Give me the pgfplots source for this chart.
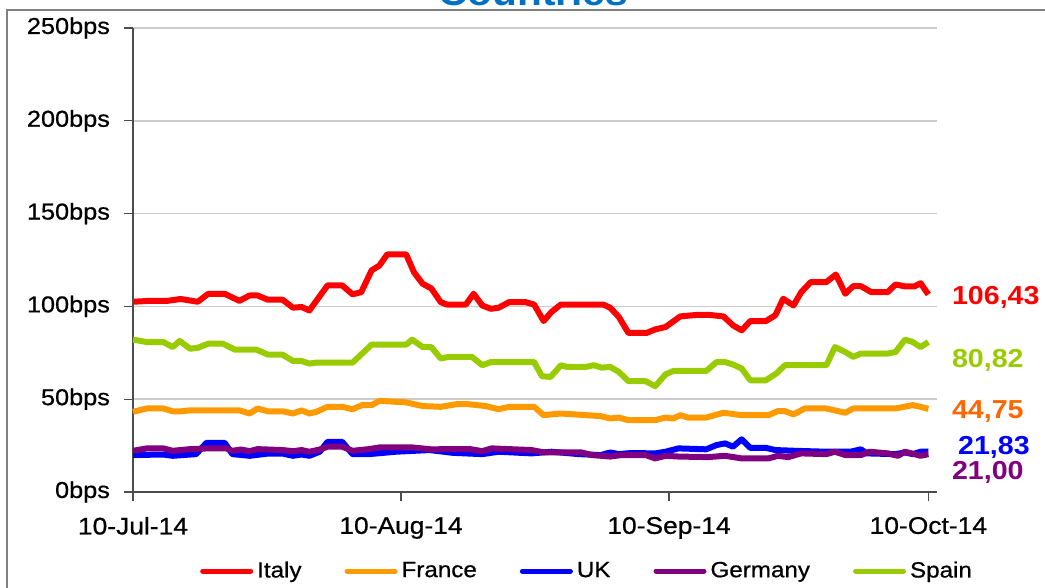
\documentclass[border=0pt]{standalone}
\usepackage{fontspec}
\setmainfont{Liberation Sans}[FakeStretch=1.1, UprightFeatures={FakeBold=0.7}]
\usepackage{pgfplots}
\pgfplotsset{compat=1.18}
\definecolor{cItaly}{HTML}{FF0000}
\definecolor{cFrance}{HTML}{FF9900}
\definecolor{cUK}{HTML}{0000FF}
\definecolor{cGermany}{HTML}{800080}
\definecolor{cSpain}{HTML}{99CC00}
\definecolor{cFranceLbl}{HTML}{FF6600}
\definecolor{titleblue}{HTML}{0070C0}
\begin{document}
\begin{tikzpicture}
\draw[gray, line width=1pt] (3.5pt,-5.25pt) rectangle (700pt,-500pt);
\node[anchor=base, font=\bfseries\fontsize{18.5}{20}\selectfont, text=titleblue] at (266.5pt,-3pt) {Countries};
\begin{axis}[
  at={(66.5pt,-246pt)}, anchor=south west,
  scale only axis, width=402pt, height=232pt,
  xmin=0, xmax=93, ymin=0, ymax=250,
  axis x line=bottom, axis y line=left,
  axis line style={-, draw=black!70, line width=0.6pt},
  tick align=outside, major tick length=4.5pt,
  tick style={draw=black!70, line width=0.6pt},
  ytick={0,50,100,150,200,250},
  yticklabels={0bps,50bps,100bps,150bps,200bps,250bps},
  xtick={0,31,62,92},
  xticklabels={10-Jul-14,10-Aug-14,10-Sep-14,10-Oct-14},
  yticklabel style={font=\fontsize{11.5}{12}\selectfont, xshift=-3.5pt},
  xticklabel style={font=\fontsize{12}{13}\selectfont, yshift=-4.5pt},
  ymajorgrids, grid style={draw=gray!40, line width=0.8pt},
  clip=false,
  every axis plot/.append style={line width=3pt, line join=round},
  legend columns=5,
  legend style={draw=none, fill=none, at={(0.566,-0.1703)}, anchor=center,
    font=\fontsize{11}{12}\selectfont,
    /tikz/every even column/.append style={column sep=19.5pt}},
  legend image code/.code={\draw[#1, line width=2.5pt, line cap=round] (0pt,0pt) -- (24pt,0pt);},
]
\addplot[color=cItaly] coordinates {(0,102.5)(2,103)(4,103)(5.5,104)(7.5,102.5)(8.7,106.8)(10.6,106.8)(12.3,103)(13.5,105.9)(14.4,105.9)(15.6,103.6)(17.3,103.6)(18.5,99.3)(19.5,99.7)(20.4,97.8)(22.5,111.3)(24.2,111.3)(25.4,106.5)(26.4,107.7)(27.6,119.4)(28.5,122)(29.4,128)(31.6,128)(32.5,118.4)(33.5,112.2)(34.5,109.7)(35.6,102.3)(36.3,101)(38.5,101)(39.4,106.8)(40.4,100.5)(41.4,98.7)(42.3,99.3)(43.5,102.3)(45.4,102.3)(46.4,101)(47.5,92.1)(48.4,97)(49.5,101)(54.4,101)(55.2,99.3)(56.2,94.3)(57.3,85.7)(59.4,85.7)(60.4,87.6)(61.6,88.9)(63.3,94.6)(65.4,95.5)(66.5,95.5)(68.3,94.6)(69.4,89.8)(70.4,87.1)(71.4,92.1)(73.2,92.1)(74.3,95.2)(75.2,104.1)(76.4,100.5)(77.3,107.7)(78.4,113.1)(80.2,113.1)(81.3,117.2)(82.4,106.8)(83.3,110.9)(84.2,110.9)(85.4,107.7)(87.3,107.7)(88.2,111.8)(89.3,110.8)(90.4,110.8)(91.1,112.5)(92,106.43)};
\addlegendentry{Italy}
\addplot[color=cFrance] coordinates {(0,43.2)(1.6,45)(3.5,45)(4.6,43.5)(5.6,43.5)(6.6,44)(12.3,44)(13.5,42.3)(14.4,45)(15.6,43.5)(17.3,43.5)(18.5,42.3)(19.5,44)(20.4,42.3)(21.2,43.2)(22.5,45.9)(24.2,45.9)(25.4,44.6)(26.5,46.8)(27.6,46.8)(28.5,49.1)(31.6,48.3)(33.5,46.3)(35.6,45.9)(37.4,47.3)(38.8,47.3)(40.8,46.3)(42.3,44.6)(43.5,45.9)(46.4,45.9)(47.5,41.4)(49.5,42.3)(52.4,41.4)(54.1,40.9)(55.2,39.6)(56.2,40.1)(57.3,38.7)(60.4,38.7)(61.6,40.1)(62.5,39.6)(63.3,41.4)(64.2,40.1)(66.3,40.1)(68.3,42.7)(70.4,41.4)(73.5,41.4)(74.6,43.6)(75.4,43.6)(76.4,41.8)(77.7,45)(80.2,45)(82.4,42.7)(83.3,45)(88.2,45)(90.2,46.8)(91.1,45.9)(92,44.75)};
\addlegendentry{France}
\addplot[color=cUK] coordinates {(0,19.9)(3.5,20.2)(4.6,19.5)(7.3,20.4)(8.5,26.5)(10.6,26.5)(11.5,20.4)(13.5,19.5)(15.6,20.7)(17.3,20.7)(18.5,19.5)(19.5,20.2)(20.4,19.5)(21.6,21.7)(22.5,27)(24.2,27)(25.4,20.4)(27.3,20.4)(30.4,21.7)(34.3,22.6)(37,21.1)(40.4,20.4)(42.3,21.7)(46.1,20.8)(48.4,21.7)(51.6,20.4)(54.1,19.9)(55.2,21.3)(56.2,20.4)(57.6,21)(60.4,20.8)(61.6,21.7)(63.1,23.5)(66.3,23)(67.5,25.3)(68.5,26.2)(69.4,24.4)(70.4,28.4)(71.4,23.8)(73.2,23.8)(74.3,22.6)(76.6,22.2)(80.2,21.7)(83,21.7)(84.2,23)(84.9,20.8)(88.2,20.4)(89.3,21.3)(90.2,20.4)(91.1,21.7)(92,21.83)};
\addlegendentry{UK}
\addplot[color=cGermany] coordinates {(0,22.2)(1.6,23.5)(3.5,23.5)(4.6,22.2)(6.6,23.1)(8.7,23.5)(10.8,23.5)(11.5,22.2)(12.5,22.9)(13.5,22)(14.4,23.1)(17.3,22.6)(18.5,22)(19.5,22.6)(20.4,21.7)(21.6,22.9)(22.5,24.4)(24.2,24.4)(25.4,22.2)(27.3,23.1)(28.5,24)(32.3,24)(34.5,23)(37,23.1)(39,23.1)(40.4,22)(41.5,23.5)(46.1,22.6)(47.6,21.3)(51.9,21.3)(53.1,19.9)(55.2,19.1)(56.5,19.9)(59.3,19.9)(60.4,18.1)(61.6,19.5)(63.1,19.1)(66.5,18.8)(68.5,19.5)(70.4,18.1)(73.5,18.1)(74.6,19.5)(75.8,18.8)(77.3,20.8)(80.2,20.4)(81.2,21.7)(82.4,19.9)(84.2,19.9)(85.2,21.7)(87.3,20.8)(88.5,19.5)(89.3,21.7)(90.4,20.4)(91.1,19.5)(92,20.4)};
\addlegendentry{Germany}
\addplot[color=cSpain] coordinates {(0,82.1)(1.6,80.8)(3.5,80.8)(4.6,78.1)(5.4,81.4)(6.6,77.2)(7.5,77.7)(8.7,79.9)(10.4,79.9)(11.8,76.7)(14.3,76.7)(15.6,74)(17.3,74)(18.5,70.6)(19.5,70.6)(20.4,69.2)(21.2,69.7)(25.4,69.7)(27.6,79.4)(31.6,79.4)(32.3,82.1)(33.5,78.1)(34.5,78.1)(35.6,71.9)(36.5,72.8)(39.2,72.8)(40.4,68.3)(41.4,70)(46.4,70)(47.3,62.4)(48.3,62)(49.5,68.3)(50.2,67.4)(52.4,67.4)(53.3,68.3)(54.2,67)(55.2,67.4)(56.2,64.7)(57.3,59.7)(59.3,59.7)(60.4,57)(61.6,63.4)(62.5,65.2)(66.3,65.2)(67.5,70)(68.5,70)(69.4,68.7)(70.4,66.6)(71.4,60.2)(73.2,60.2)(74.4,63.8)(75.4,68.3)(80.2,68.3)(81.2,78.1)(82.4,75.4)(83.3,72.8)(84.2,74.6)(87.3,74.6)(88.2,75.4)(89.3,82.1)(90.2,80.8)(91.1,78.1)(92,80.82)};
\addlegendentry{Spain}
\begin{scope}[every node/.style={anchor=west, inner sep=0pt, font=\bfseries\fontsize{13}{14}\selectfont}]
\node[text=cItaly] at (axis cs:94.7,105) {106,43};
\node[text=cSpain] at (axis cs:94.7,71) {80,82};
\node[text=cFranceLbl] at (axis cs:94.7,43.6) {44,75};
\node[text=cUK] at (axis cs:95.4,23.8) {21,83};
\node[text=cGermany] at (axis cs:94.7,10.6) {21,00};
\end{scope}
\end{axis}
\pgfresetboundingbox
\path[use as bounding box] (0,0) rectangle (522.5pt,-294pt);
\end{tikzpicture}
\end{document}
